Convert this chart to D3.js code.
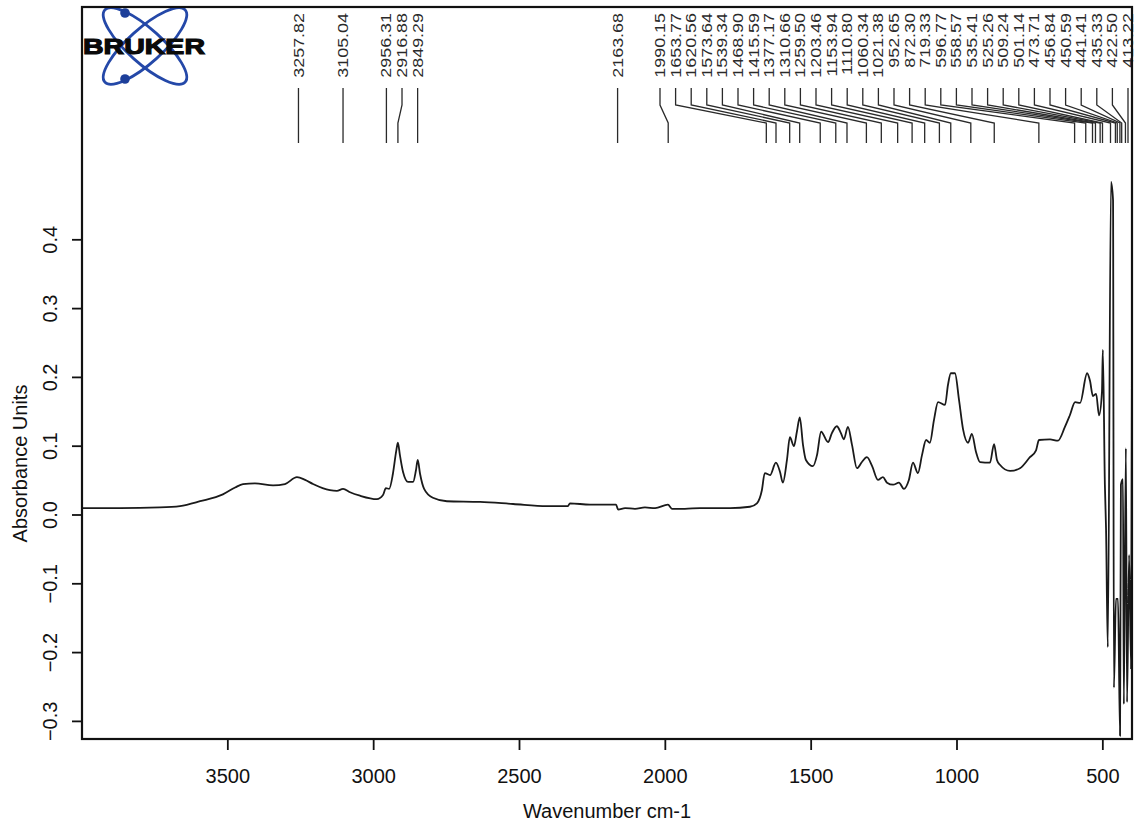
<!DOCTYPE html>
<html>
<head>
<meta charset="utf-8">
<script src="https://cdn.jsdelivr.net/npm/d3@7"></script>
<style>
  body { margin: 0; background: #fff; }
  svg { display: block; }
  text { font-family: "Liberation Sans", Arial, Helvetica, sans-serif; }
</style>
</head>
<body>
<svg id="chart" width="1135" height="827"></svg>
<script>
// FT-IR absorbance spectrum: [wavenumber (cm-1), absorbance]
const spectrum = [
  [4000, 0.010], [3870, 0.010], [3733, 0.011], [3664, 0.013], [3595, 0.020],
  [3517, 0.030], [3475, 0.040], [3448, 0.045], [3407, 0.046], [3345, 0.043],
  [3304, 0.045], [3263, 0.055], [3235, 0.051], [3208, 0.045], [3150, 0.036],
  [3126, 0.035], [3105, 0.038], [3081, 0.033], [3047, 0.028], [2989, 0.023],
  [2968, 0.029], [2958, 0.039], [2947, 0.038], [2934, 0.060], [2923, 0.092],
  [2917, 0.105], [2910, 0.087], [2899, 0.062], [2882, 0.048], [2865, 0.048],
  [2855, 0.065], [2849, 0.080], [2841, 0.060], [2827, 0.038], [2797, 0.025],
  [2749, 0.020], [2635, 0.019], [2522, 0.016], [2406, 0.013], [2334, 0.013],
  [2327, 0.017], [2258, 0.015], [2169, 0.015], [2162, 0.008], [2138, 0.010],
  [2104, 0.009], [2070, 0.011], [2035, 0.010], [1991, 0.015], [1977, 0.009],
  [1933, 0.009], [1881, 0.010], [1778, 0.010], [1710, 0.012], [1686, 0.017],
  [1669, 0.036], [1659, 0.061], [1641, 0.058], [1621, 0.076], [1607, 0.063],
  [1597, 0.047], [1583, 0.080], [1573, 0.113], [1559, 0.100], [1549, 0.121],
  [1539, 0.142], [1528, 0.102], [1518, 0.080], [1494, 0.071], [1480, 0.087],
  [1466, 0.121], [1442, 0.106], [1429, 0.119], [1412, 0.129], [1398, 0.119],
  [1388, 0.110], [1374, 0.128], [1360, 0.102], [1343, 0.068], [1326, 0.077],
  [1309, 0.084], [1291, 0.071], [1271, 0.051], [1254, 0.055], [1240, 0.047],
  [1219, 0.044], [1199, 0.047], [1182, 0.038], [1165, 0.051], [1151, 0.076],
  [1134, 0.061], [1120, 0.087], [1106, 0.109], [1093, 0.105], [1079, 0.138],
  [1065, 0.164], [1041, 0.160], [1031, 0.189], [1021, 0.206], [1007, 0.206],
  [993, 0.167], [979, 0.124], [962, 0.105], [949, 0.118], [935, 0.092],
  [921, 0.077], [887, 0.076], [873, 0.103], [863, 0.080], [853, 0.073],
  [818, 0.064], [784, 0.068], [750, 0.084], [729, 0.094], [719, 0.109],
  [681, 0.110], [654, 0.108], [630, 0.128], [613, 0.145], [595, 0.164],
  [578, 0.163], [554, 0.206], [544, 0.195], [534, 0.173], [523, 0.176],
  [513, 0.145], [503, 0.179], [500, 0.240], [493, 0.044], [489, -0.020],
  [483, -0.192], [472, 0.484], [465, 0.458], [462, -0.251], [455, -0.122],
  [448, -0.122], [441, -0.321], [438, 0.044], [431, 0.052], [428, -0.275],
  [421, 0.097], [417, -0.272], [410, -0.058], [403, -0.224], [400, 0.253]
];

// Picked peak positions (cm-1)
const peaks = [
  3257.82, 3105.04, 2956.31, 2916.88, 2849.29, 2163.68, 1990.15, 1653.77,
  1620.56, 1573.64, 1539.34, 1468.90, 1415.59, 1377.17, 1310.66, 1259.50,
  1203.46, 1153.94, 1110.80, 1060.34, 1021.38, 952.65, 872.30, 719.33,
  596.77, 558.57, 535.41, 525.26, 509.24, 501.14, 473.71, 456.84,
  450.59, 441.41, 435.33, 422.50, 413.22
];

const xTickValues = [3500, 3000, 2500, 2000, 1500, 1000, 500];
const yTickValues = [-0.3, -0.2, -0.1, 0.0, 0.1, 0.2, 0.3, 0.4];
const xDomain = [4000, 400];
const yDomain = [-0.3256, 0.4753];

const svg = d3.select("#chart");
const frame = { left: 82, right: 1132, top: 7, bottom: 739 };
const plotTop = 188;

const x = d3.scaleLinear().domain(xDomain).range([frame.left, frame.right]);
const y = d3.scaleLinear().domain(yDomain).range([frame.bottom, plotTop]);

svg.append("defs").append("clipPath").attr("id", "clip")
  .append("rect")
  .attr("x", frame.left).attr("y", frame.top)
  .attr("width", frame.right - frame.left)
  .attr("height", frame.bottom - frame.top);

// Logo
const logo = svg.append("g").attr("transform", "translate(145,46)");
[-42, 42].forEach(a => {
  logo.append("ellipse")
    .attr("rx", 54).attr("ry", 17)
    .attr("transform", `rotate(${a})`)
    .attr("fill", "none")
    .attr("stroke", "#2448a8")
    .attr("stroke-width", 2.8);
});
[[-20, -33], [-20, 33]].forEach(p => {
  logo.append("circle").attr("cx", p[0]).attr("cy", p[1]).attr("r", 4.8).attr("fill", "#1d3f9a");
});
logo.append("text")
  .attr("x", -1).attr("y", 8)
  .attr("text-anchor", "middle")
  .attr("font-size", 22)
  .attr("font-weight", 900)
  .attr("textLength", 122)
  .attr("lengthAdjust", "spacingAndGlyphs")
  .attr("fill", "#0a0a0a")
  .attr("stroke", "#0a0a0a")
  .attr("stroke-width", 1.1)
  .text("BRUKER");

// Spectrum line
const line = d3.line()
  .x(d => x(d[0]))
  .y(d => y(d[1]))
  .curve(d3.curveMonotoneX);

svg.append("path")
  .datum(spectrum)
  .attr("clip-path", "url(#clip)")
  .attr("fill", "none")
  .attr("stroke", "#1a1a1a")
  .attr("stroke-width", 1.8)
  .attr("stroke-linejoin", "round")
  .attr("d", line);

// Peak labels: spread so they don't overlap, then lead back to the peak
const gap = 15.6;
const natural = peaks.map(p => x(p));
const lx = natural.slice();
for (let i = 1; i < lx.length; i++) lx[i] = Math.max(lx[i], lx[i - 1] + gap);
lx[lx.length - 1] = Math.min(lx[lx.length - 1], frame.right - 4);
for (let i = lx.length - 2; i >= 0; i--) lx[i] = Math.min(lx[i], lx[i + 1] - gap);

const labelTop = 13, leadTop = 88, knee1 = 105, knee2 = 123, leadBottom = 143;
const peakG = svg.append("g");
peaks.forEach((p, i) => {
  const nx = natural[i], px = lx[i];
  const pts = Math.abs(nx - px) < 0.5
    ? [[px, leadTop], [px, leadBottom]]
    : [[px, leadTop], [px, knee1], [nx, knee2], [nx, leadBottom]];
  peakG.append("path")
    .attr("d", d3.line()(pts))
    .attr("fill", "none")
    .attr("stroke", "#2a2a2a")
    .attr("stroke-width", 1.3);
  peakG.append("text")
    .attr("transform", `translate(${px},${labelTop}) rotate(-90) scale(1.28,1)`)
    .attr("text-anchor", "end")
    .attr("dy", "0.36em")
    .attr("font-size", 14)
    .attr("fill", "#2a2a2a")
    .text(p.toFixed(2));
});

// Frame
svg.append("rect")
  .attr("x", frame.left).attr("y", frame.top)
  .attr("width", frame.right - frame.left)
  .attr("height", frame.bottom - frame.top)
  .attr("fill", "none")
  .attr("stroke", "#111")
  .attr("stroke-width", 2.2);

// Bottom axis
const xAxis = svg.append("g");
xAxis.selectAll("line").data(xTickValues).join("line")
  .attr("x1", d => x(d)).attr("x2", d => x(d))
  .attr("y1", frame.bottom).attr("y2", frame.bottom + 11)
  .attr("stroke", "#111").attr("stroke-width", 1.8);
xAxis.selectAll("text").data(xTickValues).join("text")
  .attr("x", d => x(d)).attr("y", frame.bottom + 44)
  .attr("text-anchor", "middle")
  .attr("font-size", 20)
  .attr("fill", "#111")
  .text(d => d);

svg.append("text")
  .attr("x", (frame.left + frame.right) / 2).attr("y", 818)
  .attr("text-anchor", "middle")
  .attr("font-size", 20)
  .attr("fill", "#111")
  .text("Wavenumber cm-1");

// Left axis
const yAxis = svg.append("g");
yAxis.selectAll("line").data(yTickValues).join("line")
  .attr("x1", frame.left - 10).attr("x2", frame.left)
  .attr("y1", d => y(d)).attr("y2", d => y(d))
  .attr("stroke", "#111").attr("stroke-width", 1.8);
yAxis.selectAll("text").data(yTickValues).join("text")
  .attr("transform", d => `translate(57,${y(d)}) rotate(-90)`)
  .attr("text-anchor", "middle")
  .attr("font-size", 20)
  .attr("fill", "#111")
  .text(d => d3.format(".1f")(d));

svg.append("text")
  .attr("transform", `translate(27,${(plotTop + frame.bottom) / 2}) rotate(-90)`)
  .attr("text-anchor", "middle")
  .attr("font-size", 20)
  .attr("fill", "#111")
  .text("Absorbance Units");
</script>
</body>
</html>
